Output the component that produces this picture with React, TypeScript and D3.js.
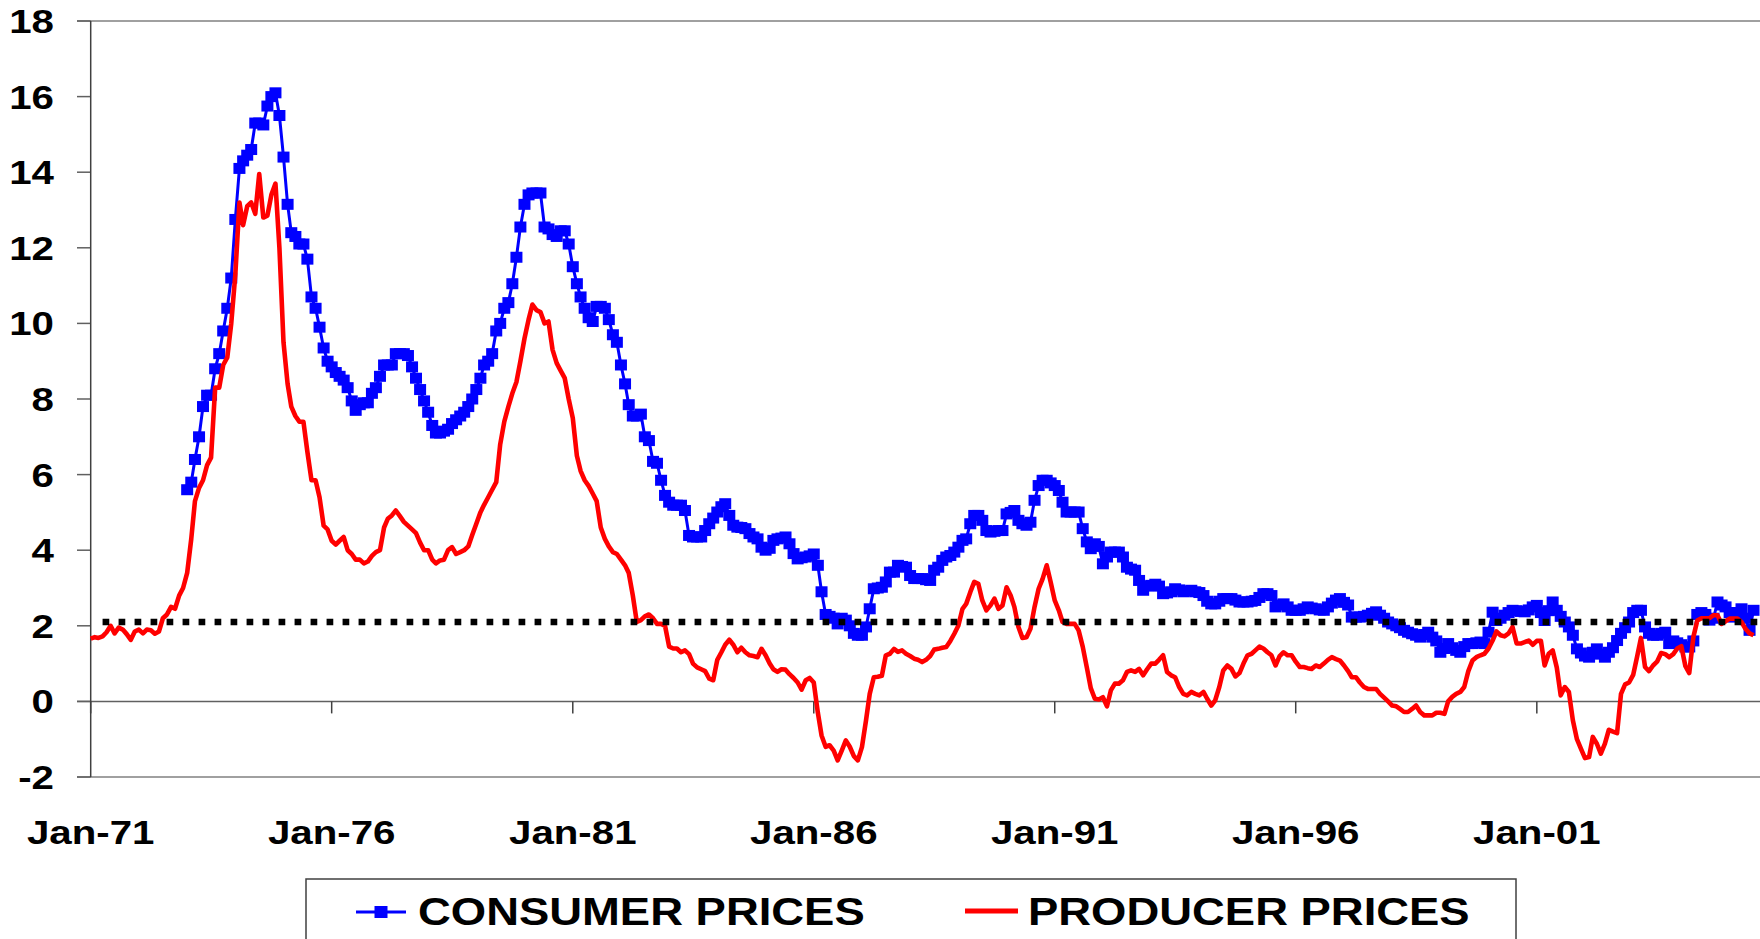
import React from "react";
import * as d3 from "d3";

// Monthly producer price inflation (%), Jan-71 onwards
const PRODUCER_START = { year: 1971, month: 0 };
const PRODUCER: number[] = [
  1.66, 1.70, 1.68, 1.72, 1.83, 2.0, 1.8, 1.95, 1.9, 1.78, 1.63, 1.85,
  1.9, 1.8, 1.9, 1.88, 1.79, 1.85, 2.2, 2.3, 2.5, 2.45, 2.8, 3.0,
  3.4, 4.3, 5.3, 5.65, 5.85, 6.25, 6.45, 8.3, 8.3, 8.9, 9.1, 10.0,
  11.3, 13.2, 12.6, 13.1, 13.2, 12.9, 13.95, 12.8, 12.85, 13.4, 13.7, 12.0,
  9.5, 8.4, 7.8, 7.55, 7.4, 7.4, 6.6, 5.85, 5.85, 5.4, 4.65, 4.55,
  4.25, 4.15, 4.25, 4.35, 4.0, 3.9, 3.75, 3.75, 3.65, 3.7, 3.85, 3.95,
  4.0, 4.6, 4.83, 4.92, 5.05, 4.9, 4.75, 4.65, 4.55, 4.45, 4.2, 4.0,
  4.0, 3.75, 3.65, 3.73, 3.75, 4.0, 4.08, 3.9, 3.95, 4.0, 4.1, 4.4,
  4.7, 5.0, 5.2, 5.4, 5.6, 5.8, 6.8, 7.4, 7.8, 8.15, 8.45, 9.0,
  9.6, 10.1, 10.5, 10.35, 10.3, 10.0, 10.05, 9.3, 8.95, 8.75, 8.55, 8.0,
  7.5, 6.5, 6.1, 5.85, 5.7, 5.5, 5.3, 4.6, 4.3, 4.1, 3.95, 3.9,
  3.75, 3.6, 3.4, 2.8, 2.1, 2.15, 2.25, 2.3, 2.2, 2.05, 2.05, 2.0,
  1.45, 1.4, 1.4, 1.3, 1.35, 1.25, 1.0, 0.9, 0.85, 0.8, 0.6, 0.56,
  1.1, 1.3, 1.5, 1.63, 1.5, 1.3, 1.42, 1.3, 1.22, 1.2, 1.17, 1.39,
  1.22, 1.0, 0.85, 0.78, 0.85, 0.84, 0.72, 0.62, 0.5, 0.31, 0.56, 0.62,
  0.5, -0.3, -0.9, -1.2, -1.16, -1.3, -1.56, -1.3, -1.03, -1.2, -1.45, -1.56,
  -1.21, -0.5, 0.2, 0.64, 0.65, 0.68, 1.22, 1.26, 1.39, 1.31, 1.35, 1.26,
  1.2, 1.13, 1.1, 1.04, 1.1, 1.2, 1.37, 1.39, 1.42, 1.44, 1.6, 1.79,
  2.01, 2.45, 2.58, 2.89, 3.16, 3.11, 2.67, 2.41, 2.54, 2.72, 2.45, 2.54,
  3.02, 2.8, 2.5, 1.97, 1.68, 1.7, 1.92, 2.5, 2.98, 3.24, 3.6, 3.16,
  2.67, 2.41, 2.1, 2.05, 2.05, 2.05, 1.88, 1.45, 0.9, 0.35, 0.07, 0.05,
  0.11, -0.13, 0.29, 0.47, 0.47, 0.56, 0.78, 0.82, 0.78, 0.86, 0.69, 0.85,
  1.0, 1.0, 1.1, 1.22, 0.78, 0.69, 0.64, 0.38, 0.2, 0.16, 0.25, 0.2,
  0.16, 0.25, 0.07, -0.11, 0.03, 0.38, 0.82, 0.95, 0.86, 0.66, 0.75, 1.0,
  1.22, 1.26, 1.35, 1.45, 1.4, 1.3, 1.22, 0.95, 1.2, 1.3, 1.22, 1.22,
  1.05, 0.91, 0.91, 0.88, 0.86, 0.95, 0.91, 1.0, 1.1, 1.17, 1.12, 1.08,
  0.95, 0.8, 0.64, 0.64, 0.5, 0.38, 0.33, 0.33, 0.33, 0.2, 0.1, 0.0,
  -0.11, -0.13, -0.2, -0.28, -0.28, -0.2, -0.11, -0.28, -0.37, -0.37, -0.37, -0.3,
  -0.3, -0.33, 0.0, 0.12, 0.2, 0.25, 0.38, 0.8, 1.08, 1.17, 1.22, 1.26,
  1.4, 1.61, 1.85, 1.75, 1.72, 1.8, 1.97, 1.53, 1.53, 1.57, 1.61, 1.5,
  1.6, 1.6, 0.95, 1.26, 1.35, 0.9, 0.16, 0.38, 0.25, -0.5, -1.0, -1.25,
  -1.5, -1.47, -0.94, -1.12, -1.38, -1.12, -0.75, -0.8, -0.84, 0.2, 0.45, 0.5,
  0.7, 1.2, 1.68, 0.91, 0.8, 0.95, 1.05, 1.28, 1.25, 1.17, 1.25, 1.4,
  1.46, 0.93, 0.75, 1.7, 2.14, 2.2, 2.2, 2.2, 2.28, 2.28, 2.05, 2.12,
  2.19, 2.19, 2.19, 2.1, 1.92, 1.8, 1.75,
];

// Monthly consumer price inflation (%), Jan-73 onwards
const CONSUMER_START = { year: 1973, month: 0 };
const CONSUMER: number[] = [
  5.6, 5.8, 6.4, 7.0, 7.8, 8.1, 8.1, 8.8, 9.2, 9.8, 10.4, 11.2,
  12.75, 14.1, 14.3, 14.45, 14.6, 15.3, 15.3, 15.25, 15.75, 16.0, 16.1, 15.5,
  14.4, 13.15, 12.4, 12.3, 12.1, 12.1, 11.7, 10.7, 10.4, 9.9, 9.35, 9.0,
  8.85, 8.7, 8.6, 8.5, 8.3, 7.95, 7.7, 7.85, 7.9, 7.9, 8.15, 8.3,
  8.6, 8.9, 8.9, 8.9, 9.2, 9.2, 9.2, 9.15, 8.85, 8.55, 8.25, 7.95,
  7.65, 7.3, 7.1, 7.1, 7.15, 7.2, 7.35, 7.45, 7.55, 7.65, 7.8, 8.0,
  8.25, 8.55, 8.9, 9.0, 9.2, 9.8, 10.0, 10.4, 10.55, 11.05, 11.75, 12.55,
  13.15, 13.4, 13.45, 13.45, 13.45, 12.55, 12.5, 12.35, 12.3, 12.45, 12.45, 12.1,
  11.5, 11.05, 10.7, 10.4, 10.15, 10.05, 10.45, 10.45, 10.4, 10.1, 9.7, 9.5,
  8.9, 8.4, 7.85, 7.55, 7.55, 7.6, 7.0, 6.9, 6.35, 6.3, 5.85, 5.45,
  5.27, 5.19, 5.19, 5.19, 5.05, 4.39, 4.35, 4.35, 4.35, 4.52, 4.7, 4.85,
  5.01, 5.15, 5.23, 4.92, 4.66, 4.61, 4.6, 4.57, 4.44, 4.35, 4.3, 4.08,
  4.0, 4.05, 4.26, 4.3, 4.32, 4.35, 4.17, 3.91, 3.77, 3.8, 3.82, 3.85,
  3.9, 3.6, 2.9, 2.3, 2.25, 2.2, 2.05, 2.2, 2.15, 2.0, 1.8, 1.75,
  1.75, 1.97, 2.45, 2.98, 3.0, 3.02, 3.16, 3.42, 3.42, 3.6, 3.57, 3.55,
  3.33, 3.25, 3.25, 3.25, 3.22, 3.2, 3.47, 3.55, 3.73, 3.82, 3.86, 3.95,
  4.08, 4.26, 4.3, 4.7, 4.92, 4.92, 4.79, 4.52, 4.48, 4.5, 4.52, 4.52,
  4.96, 5.0, 5.05, 4.79, 4.7, 4.66, 4.74, 5.32, 5.71, 5.85, 5.85, 5.78,
  5.71, 5.58, 5.27, 5.01, 5.01, 5.01, 5.01, 4.57, 4.22, 4.04, 4.17, 4.1,
  3.64, 3.82, 3.95, 3.95, 3.95, 3.82, 3.55, 3.5, 3.47, 3.2, 2.94, 3.05,
  3.07, 3.1, 3.05, 2.85, 2.87, 2.9, 2.98, 2.95, 2.9, 2.92, 2.94, 2.9,
  2.88, 2.8, 2.65, 2.58, 2.58, 2.65, 2.72, 2.72, 2.72, 2.68, 2.63, 2.63,
  2.63, 2.65, 2.67, 2.75, 2.85, 2.85, 2.8, 2.5, 2.55, 2.58, 2.5, 2.41,
  2.41, 2.41, 2.45, 2.5, 2.47, 2.45, 2.42, 2.41, 2.5, 2.6, 2.68, 2.72,
  2.62, 2.55, 2.23, 2.23, 2.23, 2.25, 2.28, 2.33, 2.37, 2.28, 2.2, 2.1,
  2.05, 2.0, 1.95, 1.88, 1.83, 1.79, 1.75, 1.7, 1.77, 1.83, 1.7, 1.6,
  1.3, 1.4, 1.53, 1.42, 1.35, 1.3, 1.45, 1.53, 1.53, 1.55, 1.57, 1.53,
  1.83, 2.36, 2.14, 2.2, 2.28, 2.35, 2.41, 2.4, 2.38, 2.37, 2.42, 2.5,
  2.54, 2.35, 2.14, 2.4, 2.63, 2.41, 2.25, 2.1, 1.97, 1.75, 1.39, 1.28,
  1.2, 1.17, 1.3, 1.39, 1.25, 1.17, 1.3, 1.42, 1.61, 1.8, 1.95, 2.1,
  2.35, 2.41, 2.41, 1.97, 1.8, 1.75, 1.75, 1.8, 1.83, 1.53, 1.6, 1.55,
  1.5, 1.44, 1.44, 1.6, 2.3, 2.35, 2.3, 2.15, 2.2, 2.63, 2.55, 2.5,
  2.35, 2.23, 2.35, 2.45, 2.2, 1.88, 2.41,
];

// Dotted reference level
const TARGET_VALUE = 2.1;
const TARGET_FROM = { year: 1971, month: 3 };
const TARGET_TO = { year: 2006, month: 0 };

const X_TICK_YEARS = [1971, 1976, 1981, 1986, 1991, 1996, 2001];
const Y_TICKS = [-2, 0, 2, 4, 6, 8, 10, 12, 14, 16, 18];
const SERIES_NAMES = ["CONSUMER PRICES", "PRODUCER PRICES"];

type Pt = { d: Date; v: number };

export default function App() {
  const W = 1760;
  const H = 939;
  const x = d3
    .scaleTime()
    .domain([new Date(1971, 0, 1), new Date(2006, 0, 1)])
    .range([90.7, 1777.8]);
  const y = d3.scaleLinear().domain([-2, 18]).range([777, 21]);

  const prod: Pt[] = PRODUCER.map((v, i) => ({
    d: new Date(PRODUCER_START.year, PRODUCER_START.month + i, 1),
    v,
  }));
  const cons: Pt[] = CONSUMER.map((v, i) => ({
    d: new Date(CONSUMER_START.year, CONSUMER_START.month + i, 1),
    v,
  }));
  const line = d3
    .line<Pt>()
    .x((p) => x(p.d))
    .y((p) => y(p.v));

  const axisX = x(new Date(1971, 0, 1));
  const font = "'Liberation Sans', Arial, sans-serif";
  const axisGray = "#808080";
  const tx0 = new Date(TARGET_FROM.year, TARGET_FROM.month, 1);
  const tx1 = new Date(TARGET_TO.year, TARGET_TO.month, 1);

  return (
    <div style={{ position: "absolute", left: 0, top: 0, width: W, height: H, background: "#fff" }}>
      <svg width={W} height={H} viewBox={`0 0 ${W} ${H}`} style={{ display: "block" }}>
        <rect x={0} y={0} width={W} height={H} fill="#fff" />
        {/* plot frame top/bottom */}
        <line x1={77} x2={W} y1={y(18)} y2={y(18)} stroke={axisGray} strokeWidth={1.5} />
        <line x1={77} x2={W} y1={y(-2)} y2={y(-2)} stroke={axisGray} strokeWidth={1.5} />
        {/* zero line (category axis) */}
        <line x1={77} x2={W} y1={y(0)} y2={y(0)} stroke="#606060" strokeWidth={1.5} />
        {/* y ticks */}
        {Y_TICKS.map((t) => (
          <g key={t}>
            <line x1={77} x2={axisX} y1={y(t)} y2={y(t)} stroke="#606060" strokeWidth={1.5} />
            <text
              transform={`translate(54, ${y(t) + 12}) scale(1.22, 1)`}
              textAnchor="end"
              fontFamily={font}
              fontWeight="bold"
              fontSize={33}
              fill="#000"
            >
              {t}
            </text>
          </g>
        ))}
        {/* y axis line */}
        <line x1={axisX} x2={axisX} y1={y(18)} y2={y(-2)} stroke="#404040" strokeWidth={1.5} />
        {/* x ticks and labels */}
        {X_TICK_YEARS.map((yr) => {
          const d = new Date(yr, 0, 1);
          const px = x(d);
          return (
            <g key={yr}>
              <line x1={px} x2={px} y1={y(0)} y2={y(0) + 12} stroke="#404040" strokeWidth={1.5} />
              <text
                transform={`translate(${px}, 844) scale(1.22, 1)`}
                textAnchor="middle"
                fontFamily={font}
                fontWeight="bold"
                fontSize={33}
                fill="#000"
              >
                {d3.timeFormat("%b-%y")(d)}
              </text>
            </g>
          );
        })}

        {/* consumer series */}
        <path d={line(cons) || ""} fill="none" stroke="#0000FF" strokeWidth={3} strokeLinejoin="round" />
        {cons.map((p, i) => (
          <rect key={i} x={x(p.d) - 6} y={y(p.v) - 5.5} width={12} height={11} fill="#0000FF" />
        ))}
        {/* producer series */}
        <path d={line(prod) || ""} fill="none" stroke="#FF0000" strokeWidth={4.6} strokeLinejoin="round" />
        {/* dotted reference */}
        <line
          x1={x(tx0)}
          x2={x(tx1)}
          y1={y(TARGET_VALUE)}
          y2={y(TARGET_VALUE)}
          stroke="#000"
          strokeWidth={6.7}
          strokeDasharray="6.7 9.3"
        />

        {/* legend */}
        <rect x={306} y={879} width={1210} height={100} fill="#fff" stroke="#404040" strokeWidth={1.5} />
        <line x1={356} x2={406} y1={912} y2={912} stroke="#0000FF" strokeWidth={3} />
        <rect x={381 - 6.5} y={912 - 6} width={13} height={12} fill="#0000FF" />
        <text
          transform="translate(418, 925) scale(1.165, 1)"
          fontFamily={font}
          fontWeight="bold"
          fontSize={39}
          fill="#000"
        >
          {SERIES_NAMES[0]}
        </text>
        <line x1={965} x2={1018} y1={911} y2={911} stroke="#FF0000" strokeWidth={5} />
        <text
          transform="translate(1028, 925) scale(1.165, 1)"
          fontFamily={font}
          fontWeight="bold"
          fontSize={39}
          fill="#000"
        >
          {SERIES_NAMES[1]}
        </text>
      </svg>
    </div>
  );
}
